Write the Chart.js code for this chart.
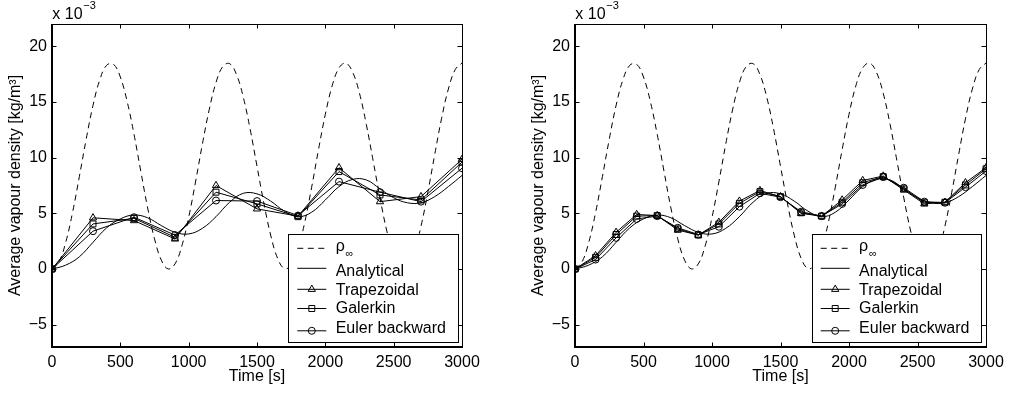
<!DOCTYPE html>
<html><head><meta charset="utf-8">
<script src="https://cdn.jsdelivr.net/npm/chart.js@4.4.1/dist/chart.umd.min.js"></script>
<style>
html,body{margin:0;padding:0;background:#fff;overflow:hidden}
#wrap{position:relative;width:1016px;height:393px;background:#fff}
canvas{position:absolute;top:0}
#c1{left:0}
#c2{left:500px}
</style></head><body>
<div id="wrap"><canvas id="c1" width="500" height="393"></canvas><canvas id="c2" width="516" height="393"></canvas></div>
<script>
// ---- data (x 10^-3 kg/m^3) ----
const rhoTimes = [0,50,100,150,200,250,300,350,400,450,500,550,600,650,700,750,800,850,900,950,1000,1050,1100,1150,1200,1250,1300,1350,1400,1450,1500,1550,1600,1650,1700,1750,1800,1850,1900,1950,2000,2050,2100,2150,2200,2250,2300,2350,2400,2450,2500,2550,2600,2650,2700,2750,2800,2850,2900,2950,3000];
const rhoInf = [0,0.61,2.38,5.05,8.29,11.65,14.69,17.00,18.30,18.38,17.24,15.04,12.10,8.76,5.48,2.71,0.80,0.01,0.46,2.07,4.63,7.81,11.19,14.29,16.74,18.19,18.44,17.46,15.41,12.55,9.23,5.93,3.05,0.98,0.05,0.32,1.78,4.23,7.35,10.72,13.89,16.45,18.05,18.49,17.67,15.77,12.98,9.71,6.39,3.41,1.18,0.11,0.21,1.51,3.84,6.89,10.25,13.49,16.15,17.90,18.50];

const analyticalTimes = [0,100,200,300,400,500,600,700,800,900,1000,1100,1200,1300,1400,1500,1600,1700,1800,1900,2000,2100,2200,2300,2400,2500,2600,2700,2800,2900,3000];
const analytical = [0,0.35,1.1,2.4,3.7,4.5,4.85,4.6,3.9,3.3,3.15,3.65,4.7,6.0,6.8,6.75,6.1,5.2,4.7,5.1,6.2,7.4,8.05,8.0,7.2,6.4,5.95,5.95,6.5,7.4,8.4];

// left panel: time step 300 s
const leftTimes = [0,300,600,900,1200,1500,1800,2100,2400,2700,3000];
const leftTrapezoidal = [0,4.6,4.35,2.7,7.5,5.4,4.75,9.1,6.05,6.5,9.85];
const leftGalerkin    = [0,4.05,4.55,2.85,6.9,5.85,4.7,8.75,6.65,6.2,9.6];
const leftEuler       = [0,3.4,4.65,3.05,6.15,6.1,4.8,7.85,6.9,6.05,9.05];

// right panel: time step 150 s
const rightTimes = [0,150,300,450,600,750,900,1050,1200,1350,1500,1650,1800,1950,2100,2250,2400,2550,2700,2850,3000];
const rightTrapezoidal = [0,1.2,3.3,4.9,4.8,3.5,3.05,4.2,6.1,7.05,6.5,5.0,4.75,6.2,7.95,8.35,7.1,5.85,6.0,7.75,9.1];
const rightGalerkin    = [0,1.05,3.1,4.75,4.8,3.6,3.05,4.05,5.9,6.95,6.5,5.05,4.75,6.0,7.75,8.3,7.2,5.95,6.0,7.55,9.0];
const rightEuler       = [0,0.85,2.8,4.5,4.75,3.7,3.1,3.8,5.6,6.8,6.45,5.15,4.75,5.85,7.55,8.25,7.3,6.05,5.95,7.35,8.8];

const xTicks = [0,500,1000,1500,2000,2500,3000];
const yTicks = [-5,0,5,10,15,20];
const seriesLabels = ['ρ∞','Analytical','Trapezoidal','Galerkin','Euler backward'];
const xTitle = 'Time [s]';
const yTitle = 'Average vapour density [kg/m³]';

// ---- rendering ----
const FONT = '"Liberation Sans", Arial, Helvetica, sans-serif';
const pts = (ts, vs) => ts.map((t, i) => ({x: t, y: vs[i]}));

function makeDatasets(times, trap, gal, eul) {
  const common = {borderColor:'#000', borderWidth:1, fill:false};
  const mk = {pointBackgroundColor:'rgba(0,0,0,0)', pointBorderColor:'#000', pointBorderWidth:1, tension:0};
  return [
    Object.assign({label:seriesLabels[0], data:pts(rhoTimes, rhoInf), borderDash:[6,4.5], pointRadius:0, tension:0.4}, common),
    Object.assign({label:seriesLabels[1], data:pts(analyticalTimes, analytical), pointRadius:0, tension:0.4}, common),
    Object.assign({label:seriesLabels[2], data:pts(times, trap), pointStyle:'triangle', pointRadius:4.2}, common, mk),
    Object.assign({label:seriesLabels[3], data:pts(times, gal), pointStyle:'rect', pointRadius:4.2}, common, mk),
    Object.assign({label:seriesLabels[4], data:pts(times, eul), pointStyle:'circle', pointRadius:3.5}, common, mk)
  ];
}

const framePlugin = {
  id: 'frame',
  afterDatasetsDraw(chart) {
    const {ctx, chartArea: a, scales: {x, y}} = chart;
    ctx.save();
    ctx.strokeStyle = '#000';
    ctx.lineWidth = 1;
    ctx.setLineDash([]);
    ctx.beginPath();
    const tl = 4.5;
    xTicks.forEach(v => {
      const px = Math.round(x.getPixelForValue(v)) + 0.5;
      ctx.moveTo(px, a.bottom); ctx.lineTo(px, a.bottom - tl);
      ctx.moveTo(px, a.top); ctx.lineTo(px, a.top + tl);
    });
    yTicks.forEach(v => {
      const py = Math.round(y.getPixelForValue(v)) + 0.5;
      ctx.moveTo(a.left, py); ctx.lineTo(a.left + tl, py);
      ctx.moveTo(a.right, py); ctx.lineTo(a.right - tl, py);
    });
    ctx.stroke();
    // top & right thin
    ctx.beginPath();
    ctx.moveTo(a.left, Math.round(a.top) + 0.5); ctx.lineTo(a.right, Math.round(a.top) + 0.5);
    ctx.moveTo(Math.round(a.right) + 0.5, a.top); ctx.lineTo(Math.round(a.right) + 0.5, a.bottom);
    ctx.stroke();
    // left & bottom thicker
    ctx.lineWidth = 2;
    ctx.beginPath();
    ctx.moveTo(Math.round(a.left), a.top); ctx.lineTo(Math.round(a.left), Math.round(a.bottom) + 1);
    ctx.moveTo(a.left - 1, Math.round(a.bottom)); ctx.lineTo(a.right + 1, Math.round(a.bottom));
    ctx.stroke();
    // exponent label
    ctx.fillStyle = '#000';
    ctx.textBaseline = 'alphabetic';
    ctx.textAlign = 'left';
    ctx.font = '16px ' + FONT;
    const ex = a.left + 0.3;
    ctx.fillText('x 10', ex, 19.3);
    const w = ctx.measureText('x 10').width;
    ctx.font = '11px ' + FONT;
    ctx.fillText('\u22123', ex + w + 0.8, 9.3);
    ctx.restore();
  }
};

const legendPlugin = {
  id: 'boxLegend',
  afterDraw(chart, args, opts) {
    const {ctx} = chart;
    const b = opts.box;
    ctx.save();
    ctx.fillStyle = '#fff';
    ctx.fillRect(b.l, b.t, b.r - b.l, b.b - b.t);
    ctx.strokeStyle = '#000';
    ctx.lineWidth = 1;
    ctx.setLineDash([]);
    ctx.strokeRect(Math.round(b.l) + 0.5, Math.round(b.t) + 0.5, Math.round(b.r - b.l), Math.round(b.b - b.t));
    const lineY = [14, 34, 55, 74.2, 96.5];
    const textY = [11.8, 36.9, 55.9, 74.7, 93.9];
    const x1 = b.l + 9, x2 = b.l + 38, tx = b.l + 47.4;
    chart.data.datasets.forEach((ds, i) => {
      const ly = b.t + lineY[i];
      ctx.strokeStyle = '#000';
      ctx.lineWidth = 1;
      ctx.setLineDash(ds.borderDash || []);
      ctx.beginPath(); ctx.moveTo(x1, ly); ctx.lineTo(x2, ly); ctx.stroke();
      ctx.setLineDash([]);
      if (ds.pointStyle && ds.pointRadius > 0) {
        ctx.fillStyle = 'rgba(0,0,0,0)';
        Chart.helpers.drawPoint(ctx, {pointStyle: ds.pointStyle, radius: ds.pointRadius, rotation: 0, borderWidth: 1}, (x1 + x2) / 2, ly);
      }
      ctx.fillStyle = '#000';
      ctx.textAlign = 'left';
      ctx.textBaseline = 'middle';
      ctx.font = '16px ' + FONT;
      const label = ds.label;
      const ty = b.t + textY[i];
      if (label.endsWith('∞')) {
        const base = label.slice(0, -1);
        ctx.fillText(base, tx, ty);
        const w = ctx.measureText(base).width;
        ctx.font = '11px ' + FONT;
        ctx.fillText('∞', tx + w + 0.8, ty + 7.5);
      } else {
        ctx.fillText(label, tx, ty);
      }
    });
    ctx.restore();
  }
};

function makeChart(id, datasets, padL, padR, box) {
  const font = {family: FONT, size: 16};
  return new Chart(document.getElementById(id), {
    type: 'line',
    data: {datasets},
    plugins: [framePlugin, legendPlugin],
    options: {
      responsive: false, animation: false, devicePixelRatio: 1,
      layout: {padding: {left: padL, right: padR, top: 24, bottom: 0}},
      plugins: {legend: {display: false}, tooltip: {enabled: false}, boxLegend: {box}},
      scales: {
        x: {
          type: 'linear', min: 0, max: 3000,
          afterBuildTicks: s => { s.ticks = xTicks.map(v => ({value: v})); },
          afterFit: s => { s.height = 46; },
          grid: {display: false, drawTicks: false}, border: {display: false},
          ticks: {font, color: '#000', padding: 6, maxRotation: 0, autoSkip: false, callback: v => String(v)},
          title: {display: true, text: xTitle, font, color: '#000', padding: {top: 0, bottom: 6.4}}
        },
        y: {
          type: 'linear', min: -7, max: 22,
          afterBuildTicks: s => { s.ticks = yTicks.map(v => ({value: v})); },
          afterFit: s => { s.width = 52; },
          grid: {display: false, drawTicks: false}, border: {display: false},
          ticks: {font, color: '#000', padding: 5, callback: v => v < 0 ? '\u2212' + Math.abs(v) : String(v)},
          title: {display: true, text: yTitle, font, color: '#000', padding: {top: 6.4, bottom: 0}}
        }
      }
    }
  });
}

makeChart('c1', makeDatasets(leftTimes, leftTrapezoidal, leftGalerkin, leftEuler), 0, 38,
  {l: 288.3, t: 234.3, r: 458.3, b: 342.7});
makeChart('c2', makeDatasets(rightTimes, rightTrapezoidal, rightGalerkin, rightEuler), 23, 30,
  {l: 311.7, t: 234.3, r: 480.7, b: 342.3});
</script>
</body></html>
